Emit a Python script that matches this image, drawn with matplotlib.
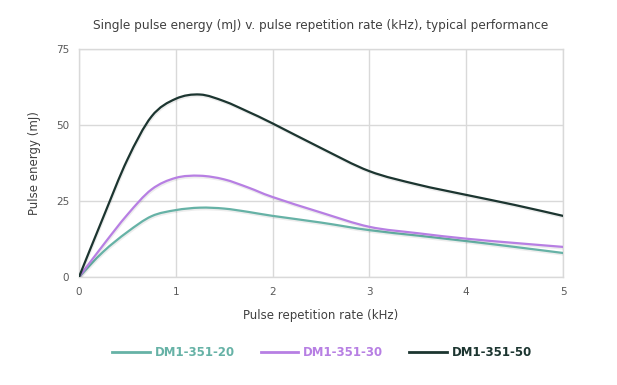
import matplotlib.pyplot as plt
import matplotlib.patheffects as pe
from matplotlib.path import Path
from matplotlib.patches import PathPatch
from matplotlib.lines import Line2D
import numpy as np

# values
rate_khz = [0, 0.25, 0.5, 0.75, 1, 1.25, 1.5, 1.75, 2, 2.5, 3, 3.5, 4, 4.5, 5]
dm1_351_20 = [0, 8.3, 14.8, 20.0, 22.0, 22.8, 22.5, 21.4, 20.1, 17.9, 15.4, 13.6, 11.8, 9.9, 7.9]
dm1_351_30 = [0, 10.5, 20.5, 28.8, 32.6, 33.3, 32.1, 29.4, 26.3, 21.2, 16.5, 14.4, 12.6, 11.2, 9.9]
dm1_351_50 = [0, 19.6, 38.6, 52.8, 58.6, 60.0, 57.8, 54.3, 50.5, 42.4, 34.8, 30.4, 27.0, 23.7, 20.1]

series_names = ['DM1-351-20', 'DM1-351-30', 'DM1-351-50']
series_colors = ['#66b2a6', '#b77fe3', '#1c3530']
x_ticks = [0, 1, 2, 3, 4, 5]
y_ticks = [0, 25, 50, 75]


def smooth_path(xs, ys):
    # bezier path through the points (like a spreadsheet "smoothed line")
    pts = np.column_stack([xs, ys]).astype(float)
    verts = [pts[0]]
    codes = [Path.MOVETO]
    n = len(pts)
    for i in range(n - 1):
        p0 = pts[i - 1] if i > 0 else pts[i]
        p1 = pts[i]
        p2 = pts[i + 1]
        p3 = pts[i + 2] if i + 2 < n else pts[i + 1]
        c1 = p1 + (p2 - p0) / 6.0
        c2 = p2 - (p3 - p1) / 6.0
        verts += [c1, c2, p2]
        codes += [Path.CURVE4] * 3
    return Path(verts, codes)


fig = plt.figure(figsize=(6.17, 3.85), dpi=100)
ax = fig.add_axes([0.128, 0.2805, 0.7845, 0.5925])

grid_col = '#d9d9d9'
for name, vals, col in zip(series_names, [dm1_351_20, dm1_351_30, dm1_351_50], series_colors):
    patch = PathPatch(smooth_path(rate_khz, vals), fill=False, edgecolor=col, lw=1.6,
                      capstyle='round', joinstyle='round', zorder=3)
    patch.set_path_effects([pe.SimpleLineShadow(offset=(0.5, -1.2), shadow_color='black', alpha=0.07),
                            pe.Normal()])
    ax.add_patch(patch)

ax.set_xlim(0, 5)
ax.set_ylim(0, 75)
ax.set_xticks(x_ticks)
ax.set_yticks(y_ticks)
ax.grid(True, color=grid_col, lw=1)
ax.set_axisbelow(True)
for s in ax.spines.values():
    s.set_color(grid_col)
    s.set_linewidth(1)
ax.tick_params(length=0, labelsize=7.5, labelcolor='#595959', pad=7)

ax.set_xlabel('Pulse repetition rate (kHz)', fontsize=8.5, color='#404040', labelpad=9)
ax.set_ylabel('Pulse energy (mJ)', fontsize=8.5, color='#404040', labelpad=11)
fig.text(0.52, 0.935, 'Single pulse energy (mJ) v. pulse repetition rate (kHz), typical performance',
         ha='center', va='center', fontsize=8.7, color='#404040')

handles = [Line2D([], [], color=c, lw=2) for c in series_colors]
leg = fig.legend(handles, series_names, loc='center', bbox_to_anchor=(0.522, 0.085), ncol=3,
                 frameon=False, handlelength=3.2, columnspacing=2.2, handletextpad=0.4,
                 prop={'size': 8.5, 'weight': 'bold'})
for t, c in zip(leg.get_texts(), series_colors):
    t.set_color(c)

fig.savefig('out.png', dpi=100)
